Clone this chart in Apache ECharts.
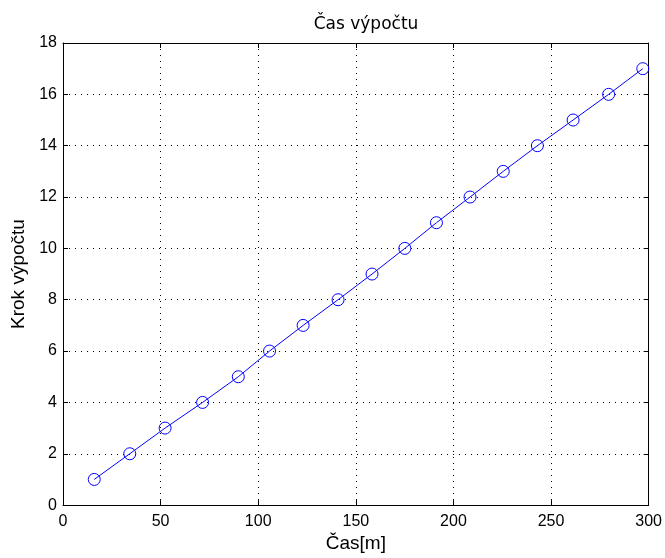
<!DOCTYPE html>
<html>
<head>
<meta charset="utf-8">
<script src="https://cdn.jsdelivr.net/npm/echarts@6/dist/echarts.min.js"></script>
<style>
  html, body { margin: 0; padding: 0; background: #fff; }
  #chart { width: 665px; height: 558px; }
</style>
</head>
<body>
<div id="chart"></div>
<script>
// cas [m] pro kazdy krok vypoctu
var casX = [16, 34.2, 52.3, 71.5, 89.8, 105.8, 123, 140.9, 158.3, 175.1, 191.3, 208.5, 225.5, 243, 261.3, 279.5, 297]
var krokY = [1, 2, 3, 4, 5, 6, 7, 8, 9, 10, 11, 12, 13, 14, 15, 16, 17]

var chart = echarts.init(document.getElementById('chart'))

var tickLbl = { fontFamily: 'Liberation Sans', fontSize: 16, color: '#000' }
var nameLbl = { fontFamily: 'Liberation Sans', fontSize: 19, color: '#000' }
var dotted = { show: true, lineStyle: { color: '#000', type: [1, 5], width: 1 } }

// spodni a leva osa s popisky, horni a prava jen s tickama (jako v matlabu)
function baseAxis (pos, isX, labels) {
  return {
    type: 'value',
    position: pos,
    min: 0,
    max: isX ? 300 : 18,
    interval: isX ? 50 : 2,
    axisLine: { show: true, onZero: false, lineStyle: { color: '#000', width: 1 } },
    axisTick: { show: true, inside: true, length: 5, lineStyle: { color: '#000' } },
    axisLabel: labels ? Object.assign({ margin: isX ? 8 : 6 }, tickLbl) : { show: false },
    splitLine: labels ? dotted : { show: false }
  }
}

var xa = baseAxis('bottom', true, true)
xa.name = 'Čas[m]'
xa.nameLocation = 'middle'
xa.nameGap = 26
xa.nameTextStyle = nameLbl

var ya = baseAxis('left', false, true)
ya.name = 'Krok výpočtu'
ya.nameLocation = 'middle'
ya.nameGap = 34
ya.nameTextStyle = nameLbl

chart.setOption({
  animation: false,
  title: {
    text: 'Čas výpočtu',
    left: 361,
    textAlign: 'center',
    top: 11,
    textStyle: { fontFamily: 'DejaVu Sans', fontSize: 17, fontWeight: 'normal', color: '#000' }
  },
  grid: { left: 63, right: 15, top: 43, bottom: 52 },
  xAxis: [xa, baseAxis('top', true, false)],
  yAxis: [ya, baseAxis('right', false, false)],
  series: [
    {
      type: 'line',
      data: casX.map(function (x, i) { return [x, krokY[i]] }),
      symbol: 'circle',
      symbolSize: 12,
      showAllSymbol: true,
      itemStyle: { color: 'rgba(0,0,0,0)', borderColor: '#0000ff', borderWidth: 1 },
      lineStyle: { color: '#0000ff', width: 1 }
    }
  ]
})
</script>
</body>
</html>
